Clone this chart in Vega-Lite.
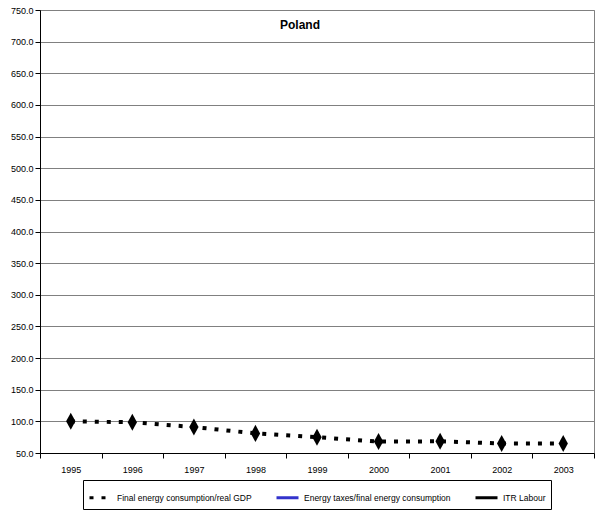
{
  "$schema": "https://vega.github.io/schema/vega-lite/v6.json",
  "width": 554,
  "height": 443,
  "autosize": {"type": "none"},
  "padding": {"left": 40, "top": 10, "right": 2, "bottom": 64},
  "background": "white",
  "config": {
    "font": "Liberation Sans",
    "view": {"stroke": "#808080", "strokeWidth": 1}
  },
  "title": {
    "text": "Poland",
    "fontSize": 12,
    "fontWeight": "bold",
    "font": "Liberation Sans",
    "color": "black",
    "anchor": "middle",
    "offset": -26,
    "dx": -17
  },
  "data": {
    "values": [
      {"year": "1995", "value": 100.0, "series": "Final energy consumption/real GDP"},
      {"year": "1996", "value": 98.6, "series": "Final energy consumption/real GDP"},
      {"year": "1997", "value": 91.0, "series": "Final energy consumption/real GDP"},
      {"year": "1998", "value": 81.0, "series": "Final energy consumption/real GDP"},
      {"year": "1999", "value": 75.0, "series": "Final energy consumption/real GDP"},
      {"year": "2000", "value": 68.0, "series": "Final energy consumption/real GDP"},
      {"year": "2001", "value": 68.5, "series": "Final energy consumption/real GDP"},
      {"year": "2002", "value": 65.0, "series": "Final energy consumption/real GDP"},
      {"year": "2003", "value": 65.0, "series": "Final energy consumption/real GDP"}
    ]
  },
  "encoding": {
    "x": {
      "field": "year",
      "type": "ordinal",
      "scale": {"type": "band", "paddingInner": 0, "paddingOuter": 0},
      "axis": {
        "title": null,
        "labelAngle": 0,
        "tickBand": "extent",
        "labelFontSize": 9,
        "labelColor": "black",
        "labelPadding": 7,
        "domainColor": "black",
        "tickColor": "black",
        "tickSize": 5,
        "grid": false
      }
    },
    "y": {
      "field": "value",
      "type": "quantitative",
      "scale": {"domain": [50, 750], "nice": false, "zero": false},
      "axis": {
        "title": null,
        "values": [50, 100, 150, 200, 250, 300, 350, 400, 450, 500, 550, 600, 650, 700, 750],
        "format": ".1f",
        "labelFontSize": 9,
        "labelColor": "black",
        "labelPadding": 2,
        "domainColor": "black",
        "tickColor": "black",
        "tickSize": 5,
        "grid": true,
        "gridColor": "#808080",
        "gridOpacity": 1,
        "gridWidth": 1
      }
    }
  },
  "layer": [
    {
      "mark": {"type": "line", "strokeWidth": 4, "strokeCap": "butt"},
      "encoding": {
        "color": {
          "field": "series",
          "type": "nominal",
          "scale": {
            "domain": ["Final energy consumption/real GDP", "Energy taxes/final energy consumption", "ITR Labour"],
            "range": ["black", "#3333CC", "black"]
          },
          "legend": {
            "title": null,
            "orient": "none",
            "legendX": 43,
            "legendY": 470,
            "direction": "horizontal",
            "columns": 3,
            "columnPadding": 18,
            "labelFontSize": 8.5,
            "labelColor": "black",
            "labelLimit": 300,
            "labelOffset": 4,
            "symbolType": "stroke",
            "symbolSize": 484,
            "symbolStrokeWidth": 3,
            "strokeColor": "black",
            "fillColor": "white",
            "padding": 5,
            "cornerRadius": 0
          }
        },
        "strokeDash": {
          "field": "series",
          "type": "nominal",
          "scale": {
            "domain": ["Final energy consumption/real GDP", "Energy taxes/final energy consumption", "ITR Labour"],
            "range": [[4, 8], [1, 0], [1, 0]]
          },
          "legend": null
        }
      }
    },
    {
      "mark": {
        "type": "point",
        "filled": true,
        "opacity": 1,
        "color": "black",
        "shape": "M0,-1L0.55,0L0,1L-0.55,0Z",
        "size": 290
      },
      "encoding": {}
    }
  ]
}
